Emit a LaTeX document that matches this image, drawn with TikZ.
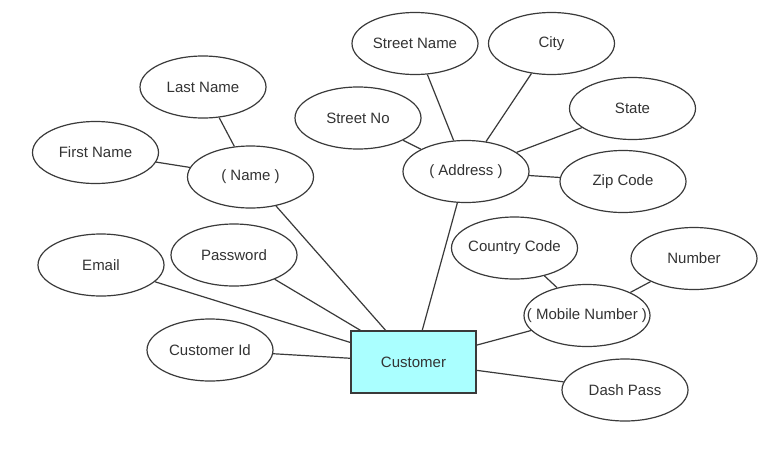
\documentclass[tikz,border=0pt]{standalone}
\usepackage{fontspec}
\setmainfont{Liberation Sans}
\usetikzlibrary{shapes.geometric}
\definecolor{lin}{HTML}{3A3A3A}
\definecolor{txtc}{HTML}{333333}
\definecolor{cust}{HTML}{AAFFFF}
\begin{document}
\begin{tikzpicture}[x=1pt,y=-1pt,
  attr/.style={ellipse,draw=lin,line width=1.2pt,fill=white,minimum width=126pt,minimum height=62pt,inner sep=0pt},
  txt/.style={text=txtc,font=\fontsize{15}{18}\selectfont,inner sep=0pt},
  ent/.style={rectangle,draw=lin,line width=1.2pt,fill=cust,minimum width=125pt,minimum height=62pt,inner sep=0pt,text=txtc,font=\fontsize{15}{18}\selectfont},
  link/.style={draw=lin,line width=1.2pt}]
\useasboundingbox[fill=white] (0,0) rectangle (779,461);
% nodes
\node[attr] (sname) at (415,43.5) {};
\node[attr] (city) at (551.5,43.5) {};
\node[attr] (lname) at (203,87) {};
\node[attr] (sno) at (358,118) {};
\node[attr] (state) at (632.5,108.5) {};
\node[attr] (fname) at (95.5,152.5) {};
\node[attr] (name) at (250.5,177) {};
\node[attr] (addr) at (466,171.5) {};
\node[attr] (zip) at (623,181.5) {};
\node[attr] (email) at (101,265) {};
\node[attr] (pass) at (234,255) {};
\node[attr] (ccode) at (514.5,248) {};
\node[attr] (num) at (694,258.5) {};
\node[attr] (mob) at (587,315.5) {};
\node[attr] (cid) at (210,350) {};
\node[attr] (dash) at (625,390) {};
\node[ent] (cust) at (413.5,362) {Customer};
% texts
\node[txt] (sname-t) at (sname) {Street Name};
\node[txt] (city-t) at (city) {City};
\node[txt] (lname-t) at (lname) {Last Name};
\node[txt] (sno-t) at (sno) {Street No};
\node[txt] (state-t) at (state) {State};
\node[txt] (fname-t) at (fname) {First Name};
\node[txt] (name-t) at (name) {( Name )};
\node[txt] (addr-t) at (addr) {( Address )};
\node[txt] (zip-t) at (zip) {Zip Code};
\node[txt] (email-t) at (email) {Email};
\node[txt] (pass-t) at (pass) {Password};
\node[txt] (ccode-t) at (ccode) {Country Code};
\node[txt] (num-t) at (num) {Number};
\node[txt] (mob-t) at (mob) {( Mobile Number )};
\node[txt] (cid-t) at (cid) {Customer Id};
\node[txt] (dash-t) at (dash) {Dash Pass};
% links
\path[link] (name) -- (fname);
\path[link] (name) -- (lname);
\path[link] (name) -- (cust);
\path[link] (addr) -- (sno);
\path[link] (addr) -- (sname);
\path[link] (addr) -- (city);
\path[link] (addr) -- (state);
\path[link] (addr) -- (zip);
\path[link] (addr) -- (cust);
\path[link] (email) -- (cust);
\path[link] (pass) -- (cust);
\path[link] (cid) -- (cust);
\path[link] (mob) -- (cust);
\path[link] (dash) -- (cust);
\path[link] (mob) -- (ccode);
\path[link] (mob) -- (num);
\end{tikzpicture}
\end{document}
